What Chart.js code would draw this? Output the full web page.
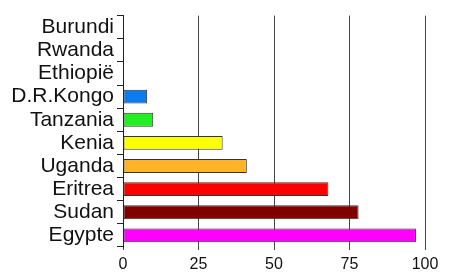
<!DOCTYPE html>
<html>
<head>
<meta charset="utf-8">
<script src="https://cdn.jsdelivr.net/npm/chart.js@4"></script>
<style>
  html, body { margin:0; padding:0; background:#fff; }
  #wrap { width:450px; height:275px; }
</style>
</head>
<body>
<div id="wrap"><canvas id="nileChart"></canvas></div>
<script>
const countries = ['Burundi','Rwanda','Ethiopië','D.R.Kongo','Tanzania','Kenia','Uganda','Eritrea','Sudan','Egypte'];
const shares = [0,0,0,8,10,33,41,68,78,97];
const barColors = ['#0080ff','#0080ff','#0080ff','#0a7cf0','#22ee22','#ffff00','#ffb428','#ff0000','#800000','#ff00ff'];
const xTicks = [0,25,50,75,100];

document.addEventListener("DOMContentLoaded", ()=>{

const ctx = document.getElementById('nileChart');

new Chart(ctx, {
  type: 'bar',
  data: {
    labels: countries,
    datasets: [
      {
        data: shares,
        backgroundColor: barColors,
        borderColor: '#333',
        borderWidth: 1,
        borderSkipped: false,
        barPercentage: 0.6,
        categoryPercentage: 1
      }
    ]
  },
  options: {
    indexAxis: 'y',
    responsive: true,
    maintainAspectRatio: false,
    animation: false,
    layout: { padding: { top: 10, right: 25, bottom: 0, left: 0 } },
    plugins: {
      legend: { display: false },
      tooltip: { enabled: false }
    },
    scales: {
      x: {
        min: 0,
        max: 100,
        afterBuildTicks: (s)=>{ s.ticks = xTicks.map(v=>({value:v})); },
        afterFit: (s)=>{ s.height = 28; },
        border: { display: false },
        grid: { color: '#444', lineWidth: 1, tickLength: 3 },
        ticks: {
          color: '#111',
          padding: 5,
          font: { family: 'Liberation Sans', size: 16 }
        }
      },
      y: {
        afterFit: (s)=>{ s.width = 123; },
        border: { display: true, color: '#222', width: 1 },
        grid: { drawOnChartArea: false, color: '#222', tickLength: 6, offset: true },
        ticks: {
          autoSkip: false,
          color: '#111',
          padding: 3,
          font: { family: 'Liberation Sans', size: 21 }
        }
      }
    }
  }
});

});
</script>
</body>
</html>
